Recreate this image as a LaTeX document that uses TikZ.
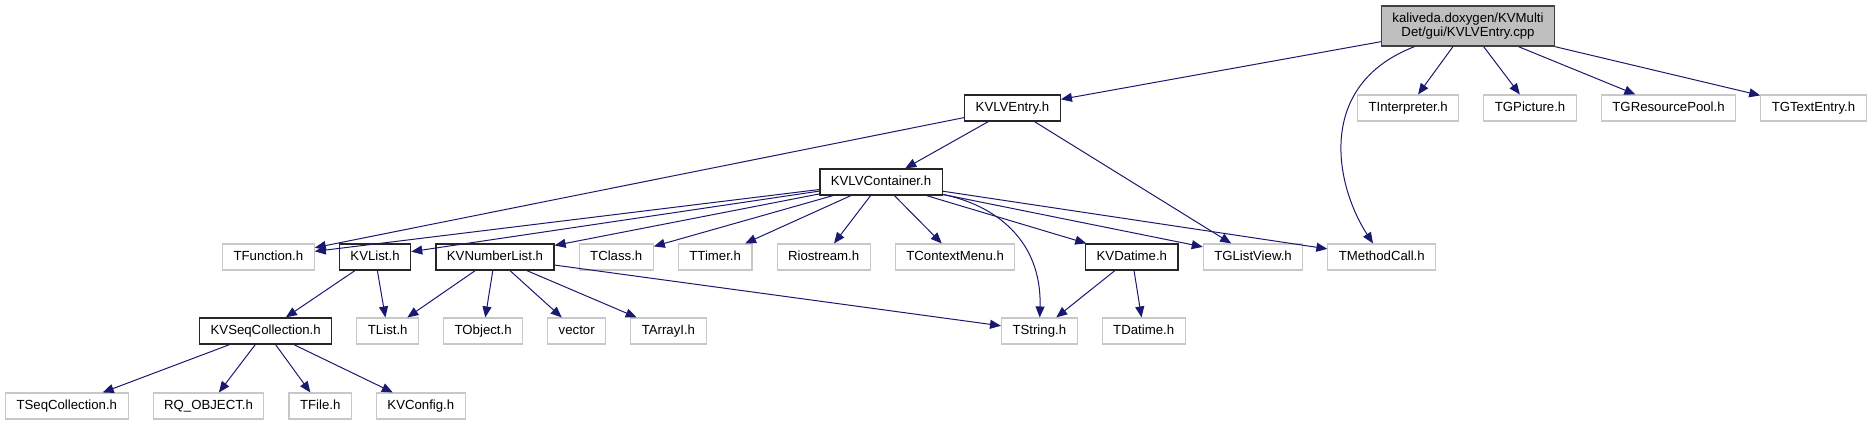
\documentclass[tikz,border=0pt]{standalone}
\usepackage{fontspec}
\setmainfont{Liberation Sans}
\usetikzlibrary{arrows.meta, positioning}
\definecolor{doxyedge}{RGB}{25,25,112}
\definecolor{doxygray}{RGB}{191,191,191}
\definecolor{doxyline}{RGB}{200,200,200}
\definecolor{doxydark}{RGB}{64,64,64}

\begin{document}
\begin{tikzpicture}[
    x=1pt, y=-1pt,
    node distance=24pt,
    hbox/.style={rectangle, inner xsep=11pt, inner ysep=0pt, minimum height=26pt, text height=9.6pt, text depth=2.8pt, fill=white, font=\fontsize{13.2pt}{15pt}\selectfont},
    docbox/.style={hbox, draw=black!85, line width=1.3pt},
    extbox/.style={hbox, draw=doxyline, line width=1.1pt},
    rootbox/.style={rectangle, draw=doxydark, fill=doxygray, line width=1.3pt, inner xsep=11pt, minimum height=40pt, align=center, font=\fontsize{13.2pt}{14pt}\selectfont},
    arr/.style={-{Triangle[length=11pt, width=9pt]}, color=doxyedge, line width=1pt}
]
\useasboundingbox (0,0) rectangle (1870,425);

\node[rootbox] (root) at (1468,26) {kaliveda.doxygen/KVMulti\\Det/gui/KVLVEntry.cpp};

\node[docbox] (kvlventry) at (1012.5,108) {KVLVEntry.h};
\node[extbox, anchor=west] (tinterpreter) at (1357,108) {TInterpreter.h};
\node[extbox, right=of tinterpreter] (tgpicture) {TGPicture.h};
\node[extbox, right=of tgpicture] (tgresourcepool) {TGResourcePool.h};
\node[extbox, right=of tgresourcepool] (tgtextentry) {TGTextEntry.h};

\node[docbox] (kvlvcontainer) at (881,182) {KVLVContainer.h};

\node[extbox, anchor=west] (tfunction) at (222,257) {TFunction.h};
\node[docbox, right=of tfunction] (kvlist) {KVList.h};
\node[docbox, right=of kvlist] (kvnumberlist) {KVNumberList.h};
\node[extbox, right=of kvnumberlist] (tclass) {TClass.h};
\node[extbox, right=of tclass] (ttimer) {TTimer.h};
\node[extbox, right=of ttimer] (riostream) {Riostream.h};
\node[extbox, right=of riostream] (tcontextmenu) {TContextMenu.h};
\node[docbox, anchor=west] (kvdatime) at (1085,257) {KVDatime.h};
\node[extbox, right=of kvdatime] (tglistview) {TGListView.h};
\node[extbox, right=of tglistview] (tmethodcall) {TMethodCall.h};

\node[docbox, anchor=west] (kvseqcollection) at (199,331) {KVSeqCollection.h};
\node[extbox, right=of kvseqcollection] (tlist) {TList.h};
\node[extbox, right=of tlist] (tobject) {TObject.h};
\node[extbox, right=of tobject] (vector) {vector};
\node[extbox, right=of vector] (tarrayi) {TArrayI.h};
\node[extbox, anchor=west] (tstring) at (1001,331) {TString.h};
\node[extbox, right=of tstring] (tdatime) {TDatime.h};

\node[extbox, anchor=west] (tseqcollection) at (5,406) {TSeqCollection.h};
\node[extbox, right=of tseqcollection] (rqobject) {RQ\_OBJECT.h};
\node[extbox, right=of rqobject] (tfile) {TFile.h};
\node[extbox, right=of tfile] (kvconfig) {KVConfig.h};

\draw[arr] (root) -- (kvlventry);
\draw[arr] (root) .. controls (1315,85) and (1335,185) .. (tmethodcall);
\draw[arr] (root) -- (tinterpreter);
\draw[arr] (root) -- (tgpicture);
\draw[arr] (root) -- (tgresourcepool);
\draw[arr] (root) -- (tgtextentry);

\draw[arr] (kvlventry) -- (tfunction);
\draw[arr] (kvlventry) -- (kvlvcontainer);
\draw[arr] (kvlventry) -- (tglistview);

\draw[arr] (kvlvcontainer) -- (tfunction);
\draw[arr] (kvlvcontainer) -- (kvlist);
\draw[arr] (kvlvcontainer) -- (kvnumberlist);
\draw[arr] (kvlvcontainer) -- (tclass);
\draw[arr] (kvlvcontainer) -- (ttimer);
\draw[arr] (kvlvcontainer) -- (riostream);
\draw[arr] (kvlvcontainer) -- (tcontextmenu);
\draw[arr] (kvlvcontainer) .. controls (995,205) and (1042,240) .. (tstring);
\draw[arr] (kvlvcontainer) -- (kvdatime);
\draw[arr] (kvlvcontainer) -- (tglistview);
\draw[arr] (kvlvcontainer) -- (tmethodcall);

\draw[arr] (kvlist) -- (kvseqcollection);
\draw[arr] (kvlist) -- (tlist);

\draw[arr] (kvnumberlist) -- (tlist);
\draw[arr] (kvnumberlist) -- (tobject);
\draw[arr] (kvnumberlist) -- (vector);
\draw[arr] (kvnumberlist) -- (tarrayi);
\draw[arr] (kvnumberlist) -- (tstring);

\draw[arr] (kvdatime) -- (tstring);
\draw[arr] (kvdatime) -- (tdatime);

\draw[arr] (kvseqcollection) -- (tseqcollection);
\draw[arr] (kvseqcollection) -- (rqobject);
\draw[arr] (kvseqcollection) -- (tfile);
\draw[arr] (kvseqcollection) -- (kvconfig);

\end{tikzpicture}
\end{document}
